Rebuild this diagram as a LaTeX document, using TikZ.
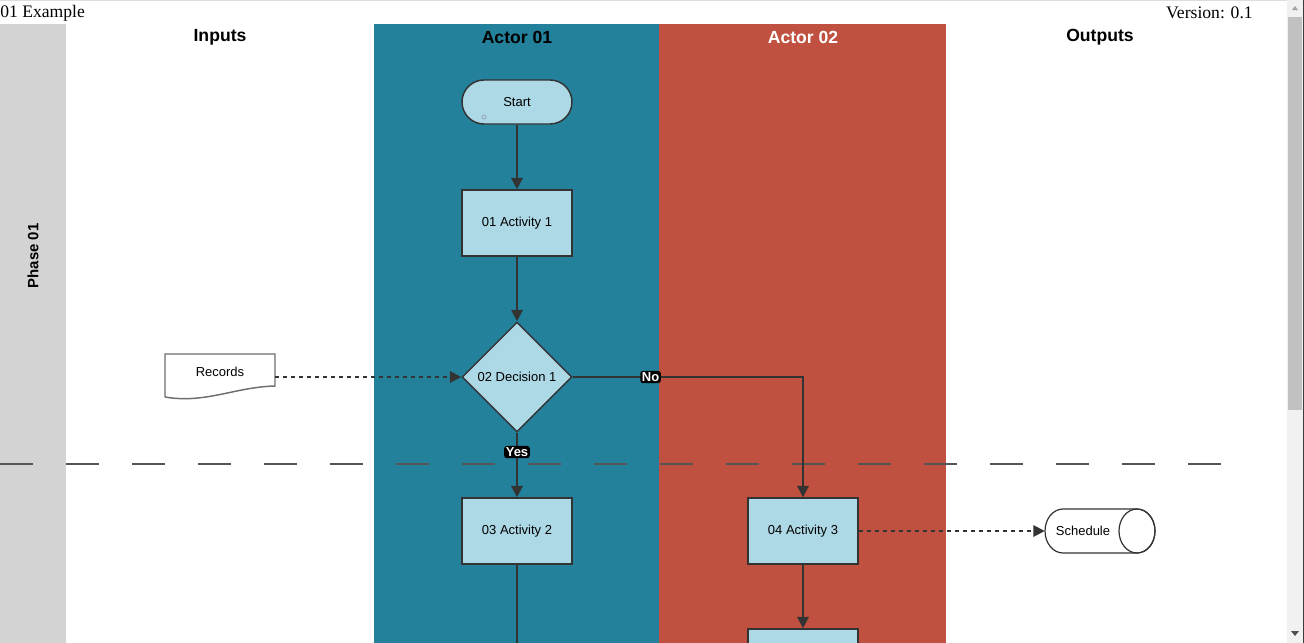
\documentclass[tikz,border=0pt]{standalone}
\usepackage{fontspec}
\setmainfont{Liberation Serif}
\newfontfamily\arialf{Liberation Sans}
\usetikzlibrary{shapes.geometric,arrows.meta}
\definecolor{actA}{RGB}{35,129,156}
\definecolor{actB}{RGB}{192,80,64}
\definecolor{lblue}{RGB}{173,216,230}
\definecolor{edge}{RGB}{51,51,51}
\definecolor{phasegray}{RGB}{211,211,211}
\tikzset{
  x=0.75pt, y=-0.75pt,
  ntext/.style={font=\arialf\fontsize{9.75pt}{11pt}\selectfont, text=black},
  hdr/.style={font=\arialf\bfseries\fontsize{13.2pt}{15pt}\selectfont},
  procbox/.style={ntext, draw=edge, fill=lblue, line width=1.1pt, minimum width=82.5pt, minimum height=49.5pt, inner sep=0pt},
  decbox/.style={ntext, diamond, draw=edge, fill=lblue, line width=1.1pt, minimum width=82.5pt, minimum height=82.5pt, inner sep=0pt},
  termbox/.style={ntext, draw=edge, fill=lblue, line width=1.1pt, minimum width=82.5pt, minimum height=33pt, rounded corners=16.5pt, inner sep=0pt},
  flow/.style={draw=edge, line width=1.5pt, -{Triangle[length=8.5pt,width=8.5pt]}},
  dataflow/.style={flow, dash pattern=on 3pt off 3pt},
  tag/.style={fill=black, text=white, font=\arialf\bfseries\fontsize{9.75pt}{11pt}\selectfont, rounded corners=2pt, inner sep=1.2pt},
}
\begin{document}
\begin{tikzpicture}
\useasboundingbox (0,0) rectangle (1304,643);
\clip (0,0) rectangle (1304,643);
\fill[white] (0,0) rectangle (1304,643);
% top border
\draw[color={rgb,255:red,221;green,221;blue,221}, line width=0.75pt] (0,0.5) -- (1287,0.5);
% title texts
\node[font=\fontsize{13.2pt}{15pt}\selectfont, anchor=west, inner sep=0pt] (title) at (0,13) {01 Example};
\node[font=\fontsize{13.2pt}{15pt}\selectfont, anchor=east, inner sep=0pt] (version) at (1253,13) {Version: 0.1};
% lanes
\fill[phasegray] (0,24) rectangle (66,643);
\fill[actA] (374,24) rectangle (659,643);
\fill[actB] (659,24) rectangle (946,643);
\node[hdr] (hin) at (220,37.5) {Inputs};
\node[hdr] (ha1) at (517,37.5) {Actor 01};
\node[hdr, text=white] (ha2) at (803,37.5) {Actor 02};
\node[hdr] (hout) at (1100,37.5) {Outputs};
\node[font=\arialf\bfseries\fontsize{11.2pt}{13pt}\selectfont, rotate=90] (ph) at (33,256) {Phase 01};
% phase separator
\draw[color={rgb,255:red,85;green,85;blue,85}, line width=1.5pt, dash pattern=on 24.75pt off 24.75pt] (0,463.5) -- (1221,463.5);
% nodes
\node[termbox] (start) at (517,102) {Start};
\draw[color={rgb,255:red,140;green,160;blue,180}, line width=0.5pt] (484,117) circle[radius=2];
\node[procbox] (a1) at (517,223) {01 Activity 1};
\node[decbox] (d1) at (517,377) {02 Decision 1};
\node[procbox] (a2) at (517,531) {03 Activity 2};
\node[procbox] (a3) at (803,531) {04 Activity 3};
\node[procbox, minimum height=60pt] (a4) at (803,669) {};
\coordinate (a2out) at (517,650);
% records document
\node[minimum width=82.5pt, minimum height=33pt, inner sep=0pt] (rec) at (220,377) {};
\draw[color={rgb,255:red,110;green,110;blue,110}, fill=white, line width=1.1pt]
  (165,397) -- (165,354) -- (275,354) -- (275,386)
  .. controls (235,387) and (205,404) .. (165,397);
\node[ntext] (rect) at (220,372) {Records};
% schedule cylinder
\node[minimum width=82.5pt, minimum height=33pt, inner sep=0pt] (sched) at (1100,531) {};
\draw[edge, fill=white, line width=0.9pt]
  (1063,509) -- (1137,509) arc[start angle=-90, end angle=90, x radius=18, y radius=22]
  -- (1063,553) arc[start angle=90, end angle=270, x radius=18, y radius=22] -- cycle;
\draw[edge, line width=0.9pt] (1137,531) ellipse[x radius=18, y radius=22];
\node[ntext] (schedt) at (1083,531) {Schedule};
% connectors
\draw[flow] (start) -- (a1);
\draw[flow] (a1) -- (d1);
\draw[flow] (d1) -- (a2) node[tag, pos=0.3] {Yes};
\draw[flow] (d1.east) -| (a3) node[tag, pos=0.169] {No};
\draw[draw=edge, line width=1.5pt] (a2) -- (a2out);
\draw[flow] (a3) -- (a4);
\draw[dataflow] (rec.east) -- (d1.west);
\draw[dataflow] (a3.east) -- (sched.west);
% scrollbar
\fill[color={rgb,255:red,241;green,241;blue,241}] (1287,0) rectangle (1304,643);
\fill[color={rgb,255:red,193;green,193;blue,193}] (1288,17) rectangle (1302,410);
\fill[color={rgb,255:red,163;green,163;blue,163}] (1292,10) -- (1298,10) -- (1295,6) -- cycle;
\fill[color={rgb,255:red,80;green,80;blue,80}] (1291,631) -- (1299,631) -- (1295,636) -- cycle;
\draw[color={rgb,255:red,60;green,60;blue,60}, line width=0.75pt] (1303.5,0) -- (1303.5,643);
\end{tikzpicture}
\end{document}
